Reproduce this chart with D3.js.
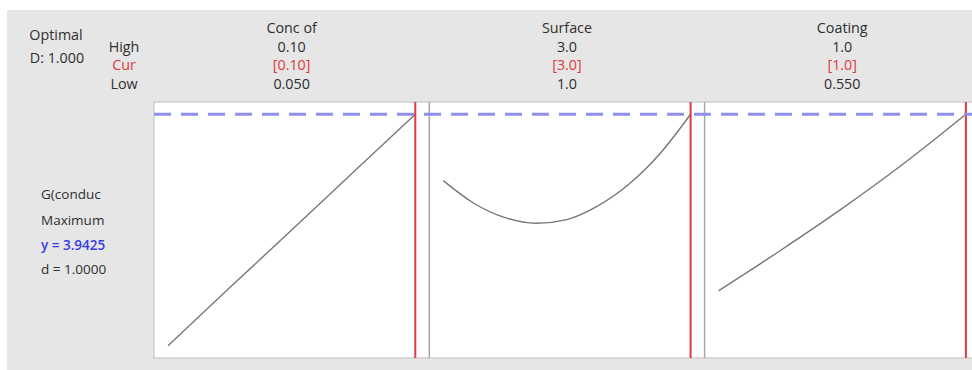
<!DOCTYPE html>
<html>
<head>
<meta charset="utf-8">
<script src="https://cdn.jsdelivr.net/npm/d3@7/dist/d3.min.js"></script>
<style>
  html, body { margin: 0; padding: 0; background: #fff; }
  svg { display: block; }
  text { font-family: "Open Sans", "DejaVu Sans", sans-serif; }
</style>
</head>
<body>
<svg id="chart" width="972" height="370"></svg>
<script>
// Factor settings
const factorNames = ["Conc of", "Surface", "Coating"];
const highLabels = ["0.10", "3.0", "1.0"];
const curLabels = ["[0.10]", "[3.0]", "[1.0]"];
const lowLabels = ["0.050", "1.0", "0.550"];
const lowValues = [0.05, 1.0, 0.55];
const highValues = [0.10, 3.0, 1.0];
const curValues = [0.10, 3.0, 1.0];

// Predicted response along each factor (others held at current setting)
const concX = [0.05, 0.0625, 0.075, 0.0875, 0.10];
const concY = [0.20, 1.14, 2.07, 3.01, 3.9425];
const surfX = [1.0, 1.25, 1.5, 1.75, 2.0, 2.25, 2.5, 2.75, 3.0];
const surfY = [2.87, 2.50, 2.27, 2.18, 2.24, 2.46, 2.81, 3.30, 3.9425];
const coatX = [0.55, 0.6625, 0.775, 0.8875, 1.0];
const coatY = [1.09, 1.74, 2.42, 3.15, 3.9425];

// Response summary
const responseName = "G(conduc";
const goal = "Maximum";
const yOptimal = 3.9425;
const dValue = "1.0000";
const compositeD = "1.000";

const curves = [
  concX.map((x, i) => [x, concY[i]]),
  surfX.map((x, i) => [x, surfY[i]]),
  coatX.map((x, i) => [x, coatY[i]])
];

const svg = d3.select("#chart");
const W = 972, H = 370;
const FS = 14.3;
const ink = "#2e2e2e";
const red = "#e0393e";

// Layout
const bgLeft = 7, bgTop = 10;
const plotLeft = 154, plotTop = 102, plotBottom = 358;
const panelW = 275.3, inset = 14;

svg.append("rect").attr("x", bgLeft).attr("y", bgTop)
  .attr("width", W - bgLeft).attr("height", H - bgTop).attr("fill", "#e6e6e6");

// White plotting area with light frame
svg.append("rect").attr("x", plotLeft).attr("y", plotTop)
  .attr("width", W - plotLeft + 10).attr("height", plotBottom - plotTop)
  .attr("fill", "#fff").attr("stroke", "#cfcfcf").attr("stroke-width", 1.5);

// Shared response scale
const allY = concY.concat(surfY, coatY);
const yLo = d3.min(allY), yHi = d3.max(allY);
const pad = (yHi - yLo) * 0.053;
const y = d3.scaleLinear().domain([yLo - pad, yHi + pad]).range([plotBottom, plotTop]);

const line = d3.line().curve(d3.curveMonotoneX);

factorNames.forEach((name, i) => {
  const left = plotLeft + i * panelW;
  const x = d3.scaleLinear().domain([lowValues[i], highValues[i]])
    .range([left + inset, left + panelW - inset]);
  const g = svg.append("g");

  if (i > 0) {
    g.append("line").attr("x1", left).attr("x2", left)
      .attr("y1", plotTop).attr("y2", plotBottom)
      .attr("stroke", "#a8a8a8").attr("stroke-width", 1.5);
  }

  g.append("path").datum(curves[i].map(d => [x(d[0]), y(d[1])]))
    .attr("d", line).attr("fill", "none")
    .attr("stroke", "#777").attr("stroke-width", 1.4);

  g.append("line").attr("x1", x(curValues[i])).attr("x2", x(curValues[i]))
    .attr("y1", plotTop).attr("y2", plotBottom)
    .attr("stroke", red).attr("stroke-width", 2);

  const cx = left + panelW / 2;
  const header = [[name, ink], [highLabels[i], ink], [curLabels[i], red], [lowLabels[i], ink]];
  const ys = [33, 52, 70, 89];
  header.forEach((h, k) => {
    svg.append("text").attr("x", cx).attr("y", ys[k])
      .attr("text-anchor", "middle").attr("font-size", FS)
      .attr("fill", h[1]).text(h[0]);
  });
});

// Optimal response level
svg.append("line").attr("x1", plotLeft).attr("x2", W)
  .attr("y1", y(yOptimal)).attr("y2", y(yOptimal))
  .attr("stroke", "#8f8ff0").attr("stroke-width", 3)
  .attr("stroke-dasharray", "17,10");

// Left summary text
svg.append("text").attr("x", 56).attr("y", 40).attr("text-anchor", "middle")
  .attr("font-size", FS).attr("fill", ink).text("Optimal");
svg.append("text").attr("x", 57).attr("y", 63).attr("text-anchor", "middle")
  .attr("font-size", FS).attr("fill", ink).text("D: " + compositeD);

[["High", ink, 52], ["Cur", red, 70], ["Low", ink, 89]].forEach(r => {
  svg.append("text").attr("x", 124).attr("y", r[2]).attr("text-anchor", "middle")
    .attr("font-size", FS).attr("fill", r[1]).text(r[0]);
});

const resp = [[responseName, ink, 400], [goal, ink, 400], ["y = " + yOptimal.toFixed(4), "#3a3ae8", 600], ["d = " + dValue, ink, 400]];
const ry = [199, 225, 250, 274];
resp.forEach((r, k) => {
  svg.append("text").attr("x", 41).attr("y", ry[k])
    .attr("font-size", 13.5).attr("font-weight", r[2]).attr("fill", r[1]).text(r[0]);
});
</script>
</body>
</html>
